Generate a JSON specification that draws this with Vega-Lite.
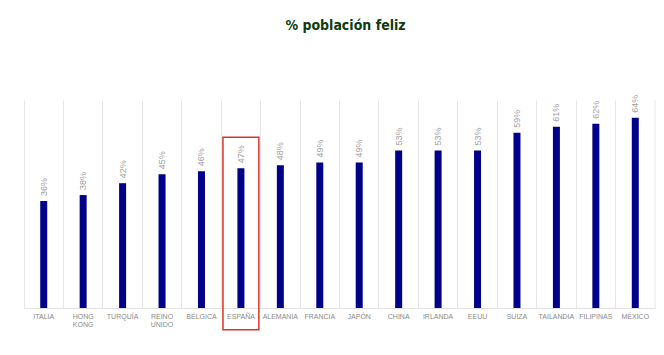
{
  "$schema": "https://vega.github.io/schema/vega-lite/v6.json",
  "autosize": "none",
  "width": 631,
  "height": 208,
  "padding": {"left": 24, "top": 100, "right": 9, "bottom": 47},
  "background": "white",
  "title": {
    "text": "% población feliz",
    "anchor": "middle",
    "font": "'DejaVu Sans Condensed', Roboto, sans-serif",
    "fontSize": 14,
    "fontWeight": "bold",
    "color": "#0d3b0d",
    "offset": 62,
    "dx": 6
  },
  "config": {
    "view": {"stroke": null},
    "font": "Liberation Sans"
  },
  "data": {
    "values": [
      {"pais": "ITALIA", "p": 0.36},
      {"pais": "HONG KONG", "p": 0.38},
      {"pais": "TURQUÍA", "p": 0.42},
      {"pais": "REINO UNIDO", "p": 0.45},
      {"pais": "BÉLGICA", "p": 0.46},
      {"pais": "ESPAÑA", "p": 0.47},
      {"pais": "ALEMANIA", "p": 0.48},
      {"pais": "FRANCIA", "p": 0.49},
      {"pais": "JAPÓN", "p": 0.49},
      {"pais": "CHINA", "p": 0.53},
      {"pais": "IRLANDA", "p": 0.53},
      {"pais": "EEUU", "p": 0.53},
      {"pais": "SUIZA", "p": 0.59},
      {"pais": "TAILANDIA", "p": 0.61},
      {"pais": "FILIPINAS", "p": 0.62},
      {"pais": "MÉXICO", "p": 0.64}
    ]
  },
  "encoding": {
    "x": {
      "field": "pais",
      "type": "nominal",
      "sort": null,
      "scale": {"paddingInner": 0, "paddingOuter": 0},
      "axis": {
        "title": null,
        "labelAngle": 0,
        "labelFontSize": 7,
        "labelColor": "#8a8a8a",
        "labelPadding": 4,
        "labelExpr": "split(datum.label, ' ')",
        "labelLineHeight": 8,
        "ticks": false,
        "grid": true,
        "gridColor": "#e6e6e6",
        "bandPosition": 0,
        "domainColor": "#e0e0e0"
      }
    },
    "y": {
      "field": "p",
      "type": "quantitative",
      "scale": {"domain": [0, 0.70], "nice": false},
      "axis": null
    }
  },
  "layer": [
    {
      "mark": {"type": "bar", "color": "#000088", "width": 7}
    },
    {
      "mark": {"type": "text", "angle": 270, "align": "left", "baseline": "middle", "dx": 5, "fontSize": 9, "color": "#a0a0a0"},
      "encoding": {
        "text": {"field": "p", "type": "quantitative", "format": ".0%"}
      }
    },
    {
      "transform": [{"filter": "datum.pais == 'MÉXICO'"}],
      "mark": {"type": "rule", "color": "#e6e6e6", "strokeWidth": 1},
      "encoding": {
        "x": {"field": "pais", "type": "nominal", "sort": null, "bandPosition": 1},
        "y": {"datum": 0},
        "y2": {"datum": 0.70}
      }
    },
    {
      "data": {"values": [{"pais": "ESPAÑA", "top": 0.575, "bottom": -0.073}]},
      "mark": {"type": "bar", "fill": null, "fillOpacity": 0, "stroke": "#d9342b", "strokeWidth": 1.5, "width": {"band": 0.91}, "clip": false},
      "encoding": {
        "y": {"field": "top", "type": "quantitative"},
        "y2": {"field": "bottom"}
      }
    }
  ]
}
